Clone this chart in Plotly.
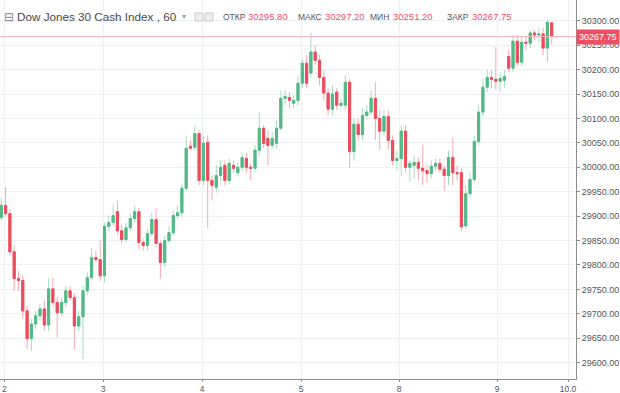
import plotly.graph_objects as go

# ---- data (hourly candles, Dow Jones 30 Cash Index) ----
opens = [29897, 29922, 29905, 29827, 29772, 29768, 29706, 29649, 29679, 29696,
         29710, 29677, 29751, 29723, 29702, 29723, 29747, 29733, 29675, 29694,
         29747, 29774, 29815, 29811, 29778, 29879, 29887, 29909, 29870, 29852,
         29876, 29895, 29909, 29846, 29840, 29864, 29893, 29844, 29805, 29850,
         29866, 29901, 29907, 29957, 30043, 30041, 30069, 29973, 30051, 29973,
         29959, 29983, 30004, 29973, 30004, 29989, 30000, 30018, 30000, 29998,
         30035, 30080, 30059, 30045, 30049, 30080, 30141, 30143, 30131, 30137,
         30172, 30213, 30193, 30236, 30219, 30184, 30152, 30119, 30154, 30127,
         30127, 30174, 30032, 30088, 30067, 30106, 30113, 30141, 30100, 30074,
         30104, 30055, 30014, 30018, 30074, 30000, 30004, 30010, 29998, 29993,
         29987, 30002, 30008, 29996, 29983, 30020, 29989, 29989, 29880, 29946,
         29975, 30053, 30113, 30164, 30184, 30180, 30176, 30178, 30227, 30203,
         30258, 30215, 30256, 30254, 30275, 30271, 30273, 30244, 30295.80]
highs = [29938, 29959, 29915, 29840, 29788, 29778, 29716, 29690, 29706, 29720,
         29727, 29772, 29774, 29735, 29733, 29757, 29757, 29741, 29706, 29757,
         29784, 29835, 29829, 29850, 29887, 29901, 29924, 29932, 29883, 29887,
         29907, 29922, 29917, 29854, 29874, 29907, 29917, 29850, 29860, 29879,
         29911, 29922, 29965, 30065, 30055, 30086, 30076, 30065, 30065, 29983,
         30004, 30014, 30014, 30018, 30014, 30010, 30030, 30030, 30008, 30045,
         30113, 30086, 30076, 30072, 30096, 30158, 30158, 30154, 30147, 30188,
         30223, 30230, 30275, 30250, 30230, 30199, 30162, 30168, 30162, 30141,
         30188, 30182, 30100, 30100, 30121, 30127, 30158, 30174, 30117, 30117,
         30117, 30065, 30035, 30086, 30086, 30014, 30024, 30020, 30045, 30004,
         30014, 30018, 30018, 30004, 30035, 30061, 30004, 29997, 29963, 29989,
         30065, 30127, 30182, 30199, 30199, 30246, 30195, 30199, 30240, 30271,
         30271, 30269, 30269, 30281, 30281, 30285, 30285, 30301, 30297.20]
lows = [29891, 29899, 29819, 29747, 29747, 29690, 29628, 29624, 29669, 29686,
        29665, 29665, 29714, 29651, 29694, 29714, 29727, 29628, 29665, 29607,
        29739, 29768, 29805, 29768, 29764, 29870, 29881, 29862, 29844, 29846,
        29870, 29887, 29833, 29829, 29829, 29858, 29837, 29772, 29796, 29844,
        29860, 29895, 29901, 29952, 30035, 30035, 29963, 29963, 29876, 29932,
        29948, 29973, 29963, 29965, 29989, 29981, 29993, 29989, 29973, 29989,
        30024, 30039, 30004, 30039, 30039, 30076, 30127, 30121, 30121, 30127,
        30162, 30162, 30184, 30209, 30168, 30137, 30106, 30106, 30117, 30121,
        30117, 29999, 30014, 30055, 30055, 30100, 30106, 30055, 30035, 30065,
        30035, 30004, 29993, 29983, 29989, 29969, 29977, 29973, 29963, 29969,
        29977, 29993, 29989, 29952, 29963, 29963, 29973, 29870, 29874, 29940,
        29969, 30045, 30104, 30154, 30162, 30158, 30154, 30162, 30195, 30195,
        30207, 30207, 30240, 30244, 30260, 30256, 30230, 30215, 30251.20]
closes = [29922, 29905, 29827, 29772, 29768, 29706, 29649, 29679, 29696, 29710,
          29677, 29751, 29723, 29702, 29723, 29747, 29733, 29675, 29694, 29747,
          29774, 29815, 29811, 29778, 29879, 29887, 29901, 29870, 29852, 29876,
          29895, 29909, 29846, 29840, 29864, 29893, 29844, 29805, 29850, 29866,
          29901, 29907, 29957, 30039, 30039, 30069, 29973, 30049, 29973, 29963,
          29983, 30000, 29973, 30008, 29998, 30000, 30020, 30000, 29998, 30035,
          30080, 30049, 30045, 30059, 30080, 30141, 30145, 30137, 30137, 30172,
          30213, 30172, 30236, 30219, 30184, 30152, 30119, 30150, 30127, 30131,
          30174, 30032, 30088, 30067, 30106, 30113, 30141, 30100, 30074, 30104,
          30055, 30014, 30018, 30074, 30000, 30008, 30010, 29998, 29993, 29987,
          30002, 30008, 29996, 29983, 30020, 29989, 29987, 29878, 29946, 29975,
          30053, 30113, 30164, 30184, 30180, 30176, 30182, 30186, 30203, 30258,
          30215, 30256, 30254, 30275, 30271, 30273, 30244, 30297, 30267.75]

day_ticks = [0.7, 23.7, 46.7, 69.7, 92.5, 115.3, 131.8]
day_labels = ["2", "3", "4", "5", "8", "9", "10.0"]
price_ticks = list(range(29600, 30301, 50))
hdr_symbol = "Dow Jones 30 Cash Index , 60"
hdr_names = ["ОТКР", "МАКС", "МИН", "ЗАКР"]
hdr_values = ["30295.80", "30297.20", "30251.20", "30267.75"]
last_close = closes[-1]

x = list(range(len(opens)))
body_hi = [max(o, c) for o, c in zip(opens, closes)]
body_lo = [min(o, c) for o, c in zip(opens, closes)]

GREEN, RED = "#53b987", "#eb4d5c"
GREEN_W, RED_W = "#a8dcc2", "#f5aab3"

fig = go.Figure()
# wicks (pale)
fig.add_trace(go.Candlestick(
    x=x, open=opens, high=highs, low=lows, close=closes,
    increasing=dict(line=dict(color=GREEN_W, width=1), fillcolor=GREEN),
    decreasing=dict(line=dict(color=RED_W, width=1), fillcolor=RED),
    whiskerwidth=0, showlegend=False, hoverinfo="skip"))
# bodies (solid)
fig.add_trace(go.Candlestick(
    x=x, open=opens, high=body_hi, low=body_lo, close=closes,
    increasing=dict(line=dict(color=GREEN, width=1), fillcolor=GREEN),
    decreasing=dict(line=dict(color=RED, width=1), fillcolor=RED),
    whiskerwidth=0, showlegend=False))

PW, PH = 576, 379
def px(v): return v / PW
def py(v): return 1 - v / PH

fig.add_shape(type="line", xref="paper", x0=0, x1=1, yref="y",
              y0=last_close, y1=last_close,
              line=dict(color="#f7b6be", width=1))

font = "Liberation Sans, Arial, sans-serif"
ann = []
ann.append(dict(x=px(3), y=py(17), text="⊟", font=dict(size=12, color="#8a8a8a")))
ann.append(dict(x=px(16), y=py(17), text=hdr_symbol, font=dict(size=11.7, color="#4a4a4a")))
ann.append(dict(x=px(181), y=py(17), text="▾", font=dict(size=8, color="#9a9a9a")))
label_x = [222, 297, 369, 446]
value_x = [247, 324, 392, 471]
for n, v, lx, vx in zip(hdr_names, hdr_values, label_x, value_x):
    ann.append(dict(x=px(lx), y=py(17), text=n, font=dict(size=8.5, color="#555555")))
    ann.append(dict(x=px(vx), y=py(17), text=v, font=dict(size=9.5, color="#f0506e")))
for a in ann:
    a.update(xref="paper", yref="paper", xanchor="left", yanchor="middle",
             showarrow=False, borderpad=0)
ann.append(dict(xref="paper", x=1, yref="y", y=last_close, xanchor="left", yanchor="middle",
                text=f"{last_close:.2f}", showarrow=False, bgcolor="#f04e63",
                font=dict(size=9, color="white"), borderpad=2, xshift=0))
fig.update_layout(annotations=ann)

for x0 in (195, 205):
    fig.add_shape(type="rect", xref="paper", yref="paper",
                  x0=px(x0), x1=px(x0 + 8), y0=py(21), y1=py(13),
                  line=dict(color="#c8c8c8", width=1), fillcolor="#eeeeee")

fig.update_layout(
    width=620, height=393,
    margin=dict(l=0, r=44, t=0, b=14),
    paper_bgcolor="white", plot_bgcolor="white",
    font=dict(family=font),
    boxmode="overlay",
    hovermode=False,
    xaxis=dict(range=[-0.3, 133.65], tickvals=day_ticks, ticktext=day_labels,
               showgrid=True, gridcolor="#edf1f5", zeroline=False, automargin=False,
               showline=True, linecolor="#8c8c8c", ticks="outside", ticklen=2,
               tickcolor="#8c8c8c", tickfont=dict(size=8.5, color="#555555"),
               rangeslider=dict(visible=False), fixedrange=True),
    yaxis=dict(side="right", range=[29566.5, 30342.5], tickvals=price_ticks,
               tickformat=".2f", showgrid=True, gridcolor="#edf1f5", zeroline=False,
               automargin=False,
               showline=True, linecolor="#8c8c8c", ticks="outside", ticklen=3,
               tickcolor="#8c8c8c", tickfont=dict(size=9, color="#555555")),
)

fig.write_html("out.html", config={"displayModeBar": False},
               post_script="document.body.style.margin='0';document.body.style.overflow='hidden';")
